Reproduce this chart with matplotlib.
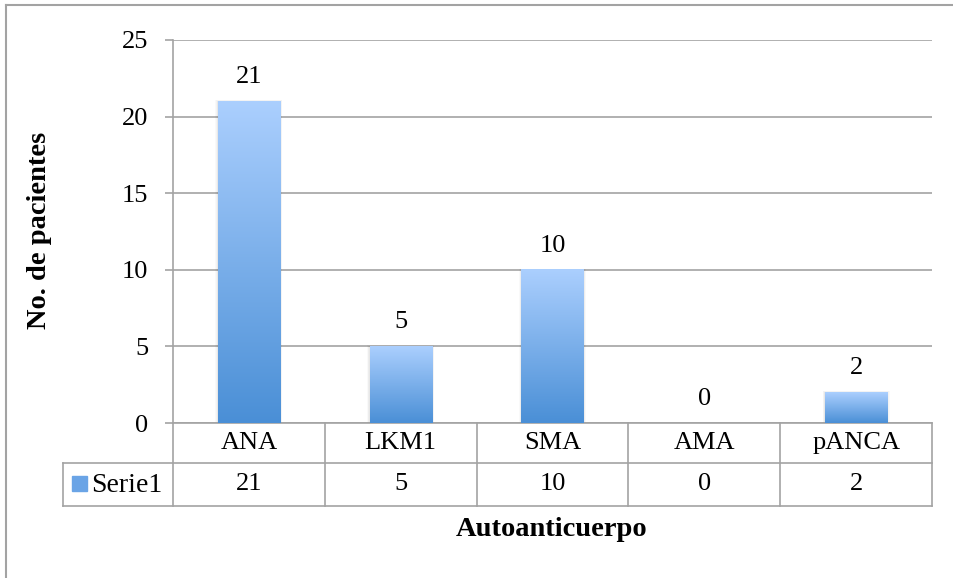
import numpy as np
import matplotlib.pyplot as plt
from matplotlib.colors import LinearSegmentedColormap
from matplotlib.transforms import blended_transform_factory

plt.rcParams['font.family'] = ['Liberation Serif', 'DejaVu Serif']

categorias = ["ANA", "LKM1", "SMA", "AMA", "pANCA"]
pacientes = [21, 5, 10, 0, 2]
serie = "Serie1"

gris = "#a3a3a3"
degradado = LinearSegmentedColormap.from_list("azul", ["#4a8fd6", "#abcffe"])
fs = 19

fig = plt.figure(figsize=(9.54, 5.78), dpi=100)
W, H = 954, 578
ax = fig.add_axes([173 / W, 1 - 423 / H, (932 - 173) / W, 383 / H])

# barras con degradado vertical (oscuro abajo, claro arriba)
ancho = 0.41
grad = np.linspace(0, 1, 256).reshape(-1, 1)
for i, v in enumerate(pacientes):
    if v <= 0:
        continue
    x0, x1 = i - ancho / 2, i + ancho / 2
    # sombra suave alrededor de la barra
    for k in range(1, 5):
        dx, dy = k / 152, k * 25 / 383
        ax.add_patch(plt.Rectangle((x0 - dx * 0.6, 0), ancho + dx * 1.2, v + dy * 0.3,
                                   color="black", alpha=0.025, lw=0, zorder=2))
    ax.imshow(grad, extent=[x0, x1, 0, v], origin="lower", cmap=degradado,
              aspect="auto", zorder=3)
    ax.annotate(str(v), (i, v), xytext=(0, 13), textcoords="offset points",
                ha="center", va="baseline", fontsize=fs)
ax.annotate("0", (3, 0), xytext=(0, 13), textcoords="offset points",
            ha="center", va="baseline", fontsize=fs)

ax.set_xlim(-0.5, 4.5)
ax.set_ylim(0, 25)
ax.set_yticks(range(0, 26, 5))
ax.set_xticks([])
ax.yaxis.grid(True, color=gris, lw=1.2)
ax.set_axisbelow(True)
for s in ["top", "right"]:
    ax.spines[s].set_visible(False)
for s in ["left", "bottom"]:
    ax.spines[s].set_color(gris)
    ax.spines[s].set_linewidth(1.2)
ax.tick_params(axis="y", length=5.8, width=1.2, color=gris, pad=12, labelsize=fs)

# tabla de datos bajo el eje
tr = blended_transform_factory(ax.transData, ax.transAxes)
y_cab = -40 / 383
y_fin = -83 / 383
x_ley = -0.5 - 110 / 152
kw = dict(color=gris, lw=1.2, transform=tr, clip_on=False)
ax.plot([-0.5, -0.5], [0, y_fin], **kw)
for b in np.arange(0.5, 5.0, 1.0):
    ax.plot([b, b], [0, y_fin], **kw)
ax.plot([x_ley, 4.5], [y_fin, y_fin], **kw)
ax.plot([x_ley, 4.5], [y_cab, y_cab], **kw)
ax.plot([x_ley, x_ley], [y_cab, y_fin], **kw)
for i, (c, v) in enumerate(zip(categorias, pacientes)):
    ax.text(i, y_cab / 2, c, transform=tr, ha="center", va="center", fontsize=fs)
    ax.text(i, (y_cab + y_fin) / 2, str(v), transform=tr, ha="center", va="center",
            fontsize=fs)

# clave de la serie
fig.patches.append(plt.Rectangle((72 / W, 1 - 491 / H), 15 / W, 15 / H,
                                 transform=fig.transFigure, color="#6aa4e6"))
fig.text(91 / W, 1 - 485 / H, serie, ha="left", va="center", fontsize=fs + 1)

fig.text(40 / W, 1 - 230 / H, "No. de pacientes", rotation=90, ha="center",
         va="center", fontsize=20.5, fontweight="bold")
fig.text(552 / W, 1 - 530 / H, "Autoanticuerpo", ha="center", va="center",
         fontsize=20.5, fontweight="bold")

# marco exterior del gráfico
fig.add_artist(plt.Line2D([6 / W, 6 / W], [0, 1 - 5 / H], color=gris, lw=1.5))
fig.add_artist(plt.Line2D([6 / W, 1], [1 - 5 / H, 1 - 5 / H], color=gris, lw=1.5))

fig.savefig("out.png", dpi=100)
